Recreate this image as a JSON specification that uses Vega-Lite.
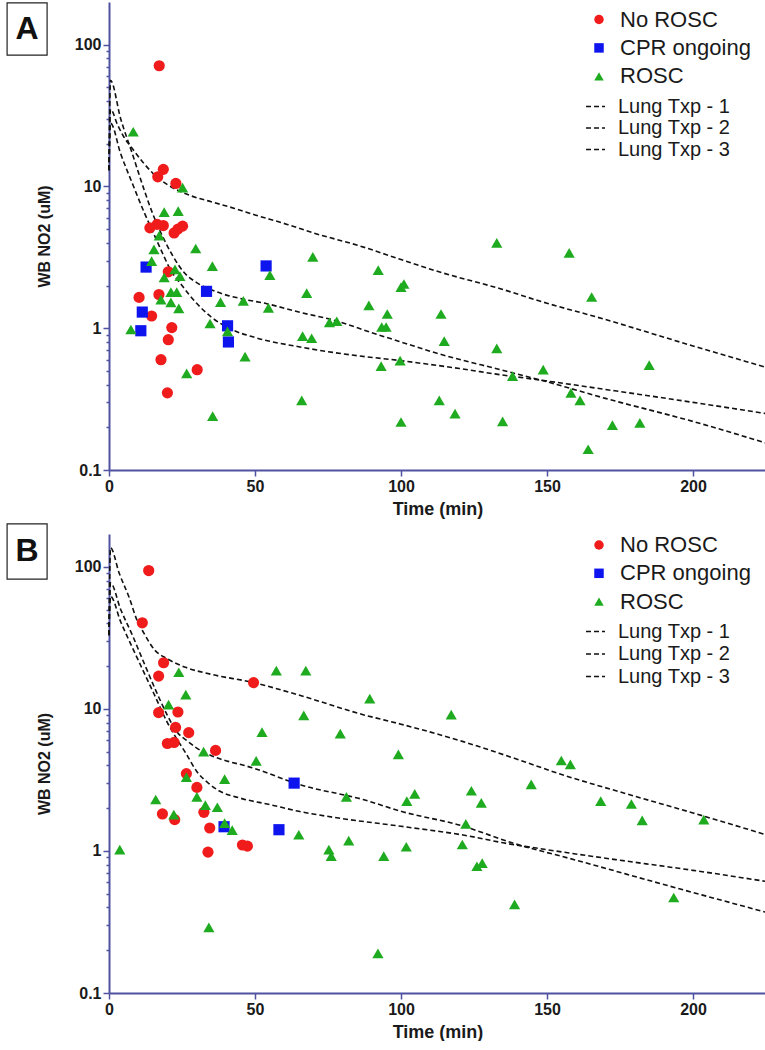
{
  "$schema": "https://vega.github.io/schema/vega-lite/v6.json",
  "padding": {"left": 6, "top": 2, "right": 0, "bottom": 0},
  "background": "white",
  "config": {
    "view": {"stroke": null},
    "font": "Liberation Sans",
    "axis": {"domainColor": "#4e52a0", "domainWidth": 2, "tickColor": "#4e52a0", "tickWidth": 1.5, "labelFont": "Liberation Sans", "labelFontWeight": "bold", "labelColor": "#1a1a1a", "titleFont": "Liberation Sans", "titleFontWeight": "bold", "titleColor": "#1a1a1a", "grid": false},
    "legend": {"labelFont": "Liberation Sans", "labelColor": "#1a1a1a", "padding": 0}
  },
  "spacing": 5,
  "resolve": {
    "scale": {"color": "independent", "shape": "independent", "strokeDash": "independent"},
    "legend": {"color": "independent", "shape": "independent", "strokeDash": "independent"}
  },
  "datasets": {
    "A_points": [
      {"group": "No ROSC", "t": 17.2, "v": 71}, {"group": "No ROSC", "t": 18.6, "v": 13.2}, {"group": "No ROSC", "t": 16.7, "v": 11.7}, {"group": "No ROSC", "t": 22.9, "v": 10.5}, {"group": "No ROSC", "t": 14, "v": 5.1}, {"group": "No ROSC", "t": 16.5, "v": 5.4}, {"group": "No ROSC", "t": 18.6, "v": 5.3}, {"group": "No ROSC", "t": 22.3, "v": 4.7}, {"group": "No ROSC", "t": 23.6, "v": 5.0}, {"group": "No ROSC", "t": 25.2, "v": 5.25}, {"group": "No ROSC", "t": 20.3, "v": 2.5}, {"group": "No ROSC", "t": 10.3, "v": 1.65}, {"group": "No ROSC", "t": 14.6, "v": 1.22}, {"group": "No ROSC", "t": 17.1, "v": 1.73}, {"group": "No ROSC", "t": 21.5, "v": 1.01}, {"group": "No ROSC", "t": 20.3, "v": 0.83}, {"group": "No ROSC", "t": 17.8, "v": 0.6}, {"group": "No ROSC", "t": 30.2, "v": 0.51}, {"group": "No ROSC", "t": 20, "v": 0.35},
      {"group": "CPR ongoing", "t": 12.7, "v": 2.7}, {"group": "CPR ongoing", "t": 53.8, "v": 2.75}, {"group": "CPR ongoing", "t": 33.4, "v": 1.82}, {"group": "CPR ongoing", "t": 11.4, "v": 1.3}, {"group": "CPR ongoing", "t": 10.9, "v": 0.96}, {"group": "CPR ongoing", "t": 40.6, "v": 1.04}, {"group": "CPR ongoing", "t": 40.9, "v": 0.8},
      {"group": "ROSC", "t": 8.3, "v": 24.3}, {"group": "ROSC", "t": 25.2, "v": 9.8}, {"group": "ROSC", "t": 18.9, "v": 6.6}, {"group": "ROSC", "t": 23.7, "v": 6.7}, {"group": "ROSC", "t": 17.2, "v": 4.5}, {"group": "ROSC", "t": 15.4, "v": 3.6}, {"group": "ROSC", "t": 14.6, "v": 2.97}, {"group": "ROSC", "t": 22.6, "v": 2.6}, {"group": "ROSC", "t": 18.9, "v": 2.28}, {"group": "ROSC", "t": 24.3, "v": 2.33}, {"group": "ROSC", "t": 29.7, "v": 3.65}, {"group": "ROSC", "t": 35.4, "v": 2.74}, {"group": "ROSC", "t": 55.1, "v": 2.37}, {"group": "ROSC", "t": 69.8, "v": 3.19}, {"group": "ROSC", "t": 67.7, "v": 1.77}, {"group": "ROSC", "t": 92.2, "v": 2.57}, {"group": "ROSC", "t": 100, "v": 1.95}, {"group": "ROSC", "t": 101, "v": 2.05}, {"group": "ROSC", "t": 17.8, "v": 1.59}, {"group": "ROSC", "t": 21.2, "v": 1.8}, {"group": "ROSC", "t": 23.2, "v": 1.8}, {"group": "ROSC", "t": 21.2, "v": 1.52}, {"group": "ROSC", "t": 23.9, "v": 1.38}, {"group": "ROSC", "t": 38.2, "v": 1.53}, {"group": "ROSC", "t": 46, "v": 1.56}, {"group": "ROSC", "t": 54.6, "v": 1.39}, {"group": "ROSC", "t": 89, "v": 1.45}, {"group": "ROSC", "t": 95.3, "v": 1.26}, {"group": "ROSC", "t": 113.7, "v": 1.26}, {"group": "ROSC", "t": 132.8, "v": 4.0}, {"group": "ROSC", "t": 157.6, "v": 3.4}, {"group": "ROSC", "t": 165.3, "v": 1.66}, {"group": "ROSC", "t": 34.6, "v": 1.08}, {"group": "ROSC", "t": 40.6, "v": 0.95}, {"group": "ROSC", "t": 7.5, "v": 0.98}, {"group": "ROSC", "t": 26.6, "v": 0.48}, {"group": "ROSC", "t": 46.6, "v": 0.63}, {"group": "ROSC", "t": 35.5, "v": 0.24}, {"group": "ROSC", "t": 75.5, "v": 1.1}, {"group": "ROSC", "t": 78, "v": 1.12}, {"group": "ROSC", "t": 66.3, "v": 0.88}, {"group": "ROSC", "t": 69.4, "v": 0.85}, {"group": "ROSC", "t": 93.4, "v": 1.02}, {"group": "ROSC", "t": 94.9, "v": 1.02}, {"group": "ROSC", "t": 93.2, "v": 0.54}, {"group": "ROSC", "t": 99.7, "v": 0.59}, {"group": "ROSC", "t": 114.8, "v": 0.81}, {"group": "ROSC", "t": 132.8, "v": 0.72}, {"group": "ROSC", "t": 66, "v": 0.31}, {"group": "ROSC", "t": 100, "v": 0.218}, {"group": "ROSC", "t": 113.1, "v": 0.31}, {"group": "ROSC", "t": 118.5, "v": 0.25}, {"group": "ROSC", "t": 134.8, "v": 0.22}, {"group": "ROSC", "t": 138.2, "v": 0.46}, {"group": "ROSC", "t": 148.7, "v": 0.51}, {"group": "ROSC", "t": 185, "v": 0.55}, {"group": "ROSC", "t": 158.2, "v": 0.35}, {"group": "ROSC", "t": 161.3, "v": 0.31}, {"group": "ROSC", "t": 172.4, "v": 0.207}, {"group": "ROSC", "t": 181.8, "v": 0.215}, {"group": "ROSC", "t": 164.1, "v": 0.14}
    ],
    "A_curves": [
      {"curve": "Lung Txp - 1", "t": 0, "v": 13}, {"curve": "Lung Txp - 1", "t": 0.5, "v": 35}, {"curve": "Lung Txp - 1", "t": 3, "v": 27}, {"curve": "Lung Txp - 1", "t": 5, "v": 22.5}, {"curve": "Lung Txp - 1", "t": 8, "v": 18.5}, {"curve": "Lung Txp - 1", "t": 12, "v": 14.5}, {"curve": "Lung Txp - 1", "t": 15, "v": 12.4}, {"curve": "Lung Txp - 1", "t": 20, "v": 10.3}, {"curve": "Lung Txp - 1", "t": 28, "v": 8.6}, {"curve": "Lung Txp - 1", "t": 35, "v": 7.8}, {"curve": "Lung Txp - 1", "t": 43, "v": 7.0}, {"curve": "Lung Txp - 1", "t": 50, "v": 6.3}, {"curve": "Lung Txp - 1", "t": 61, "v": 5.4}, {"curve": "Lung Txp - 1", "t": 70, "v": 4.7}, {"curve": "Lung Txp - 1", "t": 86, "v": 3.8}, {"curve": "Lung Txp - 1", "t": 100, "v": 3.05}, {"curve": "Lung Txp - 1", "t": 113, "v": 2.5}, {"curve": "Lung Txp - 1", "t": 134, "v": 1.9}, {"curve": "Lung Txp - 1", "t": 150, "v": 1.5}, {"curve": "Lung Txp - 1", "t": 167, "v": 1.2}, {"curve": "Lung Txp - 1", "t": 200, "v": 0.75}, {"curve": "Lung Txp - 1", "t": 225, "v": 0.53},
      {"curve": "Lung Txp - 2", "t": 0, "v": 13}, {"curve": "Lung Txp - 2", "t": 0.5, "v": 28}, {"curve": "Lung Txp - 2", "t": 4, "v": 17}, {"curve": "Lung Txp - 2", "t": 8, "v": 10.5}, {"curve": "Lung Txp - 2", "t": 12, "v": 6.6}, {"curve": "Lung Txp - 2", "t": 15, "v": 4.8}, {"curve": "Lung Txp - 2", "t": 18, "v": 3.5}, {"curve": "Lung Txp - 2", "t": 21, "v": 2.6}, {"curve": "Lung Txp - 2", "t": 25, "v": 2.0}, {"curve": "Lung Txp - 2", "t": 30, "v": 1.5}, {"curve": "Lung Txp - 2", "t": 35, "v": 1.2}, {"curve": "Lung Txp - 2", "t": 42, "v": 0.98}, {"curve": "Lung Txp - 2", "t": 50, "v": 0.86}, {"curve": "Lung Txp - 2", "t": 65, "v": 0.74}, {"curve": "Lung Txp - 2", "t": 80, "v": 0.66}, {"curve": "Lung Txp - 2", "t": 100, "v": 0.59}, {"curve": "Lung Txp - 2", "t": 120, "v": 0.52}, {"curve": "Lung Txp - 2", "t": 134, "v": 0.47}, {"curve": "Lung Txp - 2", "t": 148, "v": 0.43}, {"curve": "Lung Txp - 2", "t": 170, "v": 0.37}, {"curve": "Lung Txp - 2", "t": 200, "v": 0.3}, {"curve": "Lung Txp - 2", "t": 225, "v": 0.25},
      {"curve": "Lung Txp - 3", "t": 0, "v": 13}, {"curve": "Lung Txp - 3", "t": 0.5, "v": 56}, {"curve": "Lung Txp - 3", "t": 4, "v": 30}, {"curve": "Lung Txp - 3", "t": 8, "v": 17}, {"curve": "Lung Txp - 3", "t": 12, "v": 9.5}, {"curve": "Lung Txp - 3", "t": 15, "v": 6.4}, {"curve": "Lung Txp - 3", "t": 18, "v": 4.6}, {"curve": "Lung Txp - 3", "t": 22, "v": 3.2}, {"curve": "Lung Txp - 3", "t": 25.5, "v": 2.5}, {"curve": "Lung Txp - 3", "t": 30, "v": 2.1}, {"curve": "Lung Txp - 3", "t": 37, "v": 1.8}, {"curve": "Lung Txp - 3", "t": 45, "v": 1.62}, {"curve": "Lung Txp - 3", "t": 54, "v": 1.49}, {"curve": "Lung Txp - 3", "t": 65, "v": 1.3}, {"curve": "Lung Txp - 3", "t": 77, "v": 1.14}, {"curve": "Lung Txp - 3", "t": 90, "v": 0.93}, {"curve": "Lung Txp - 3", "t": 100, "v": 0.8}, {"curve": "Lung Txp - 3", "t": 113, "v": 0.66}, {"curve": "Lung Txp - 3", "t": 134, "v": 0.51}, {"curve": "Lung Txp - 3", "t": 148, "v": 0.43}, {"curve": "Lung Txp - 3", "t": 170, "v": 0.32}, {"curve": "Lung Txp - 3", "t": 200, "v": 0.22}, {"curve": "Lung Txp - 3", "t": 225, "v": 0.155}
    ],
    "B_points": [
      {"group": "No ROSC", "t": 13.6, "v": 94}, {"group": "No ROSC", "t": 11.4, "v": 40.3}, {"group": "No ROSC", "t": 18.7, "v": 21.1}, {"group": "No ROSC", "t": 17, "v": 17}, {"group": "No ROSC", "t": 49.5, "v": 15.3}, {"group": "No ROSC", "t": 17, "v": 9.4}, {"group": "No ROSC", "t": 23.6, "v": 9.5}, {"group": "No ROSC", "t": 22.8, "v": 7.4}, {"group": "No ROSC", "t": 27.3, "v": 6.8}, {"group": "No ROSC", "t": 20, "v": 5.7}, {"group": "No ROSC", "t": 22.3, "v": 5.8}, {"group": "No ROSC", "t": 36.5, "v": 5.1}, {"group": "No ROSC", "t": 26.5, "v": 3.5}, {"group": "No ROSC", "t": 30.1, "v": 2.8}, {"group": "No ROSC", "t": 18.3, "v": 1.82}, {"group": "No ROSC", "t": 32.5, "v": 1.87}, {"group": "No ROSC", "t": 22.5, "v": 1.66}, {"group": "No ROSC", "t": 34.5, "v": 1.45}, {"group": "No ROSC", "t": 45.7, "v": 1.1}, {"group": "No ROSC", "t": 47.4, "v": 1.08}, {"group": "No ROSC", "t": 33.9, "v": 0.98},
      {"group": "CPR ongoing", "t": 63.4, "v": 3.0}, {"group": "CPR ongoing", "t": 39.4, "v": 1.48}, {"group": "CPR ongoing", "t": 58.2, "v": 1.41},
      {"group": "ROSC", "t": 23.9, "v": 18.1}, {"group": "ROSC", "t": 57.3, "v": 18.6}, {"group": "ROSC", "t": 67.4, "v": 18.6}, {"group": "ROSC", "t": 26.3, "v": 12.6}, {"group": "ROSC", "t": 20.4, "v": 10.7}, {"group": "ROSC", "t": 66.7, "v": 9.0}, {"group": "ROSC", "t": 52.4, "v": 6.85}, {"group": "ROSC", "t": 79.2, "v": 6.7}, {"group": "ROSC", "t": 32.4, "v": 5.0}, {"group": "ROSC", "t": 50.4, "v": 4.3}, {"group": "ROSC", "t": 81.3, "v": 2.4}, {"group": "ROSC", "t": 26.5, "v": 3.3}, {"group": "ROSC", "t": 39.6, "v": 3.2}, {"group": "ROSC", "t": 16, "v": 2.3}, {"group": "ROSC", "t": 30.1, "v": 2.4}, {"group": "ROSC", "t": 33, "v": 2.1}, {"group": "ROSC", "t": 37.1, "v": 2.03}, {"group": "ROSC", "t": 22.2, "v": 1.8}, {"group": "ROSC", "t": 39.6, "v": 1.57}, {"group": "ROSC", "t": 42.2, "v": 1.4}, {"group": "ROSC", "t": 65, "v": 1.3}, {"group": "ROSC", "t": 3.7, "v": 1.02}, {"group": "ROSC", "t": 75.3, "v": 1.02}, {"group": "ROSC", "t": 76.1, "v": 0.92}, {"group": "ROSC", "t": 82.1, "v": 1.18}, {"group": "ROSC", "t": 94.1, "v": 0.92}, {"group": "ROSC", "t": 101.8, "v": 1.07}, {"group": "ROSC", "t": 102, "v": 2.24}, {"group": "ROSC", "t": 104.7, "v": 2.52}, {"group": "ROSC", "t": 99.1, "v": 4.78}, {"group": "ROSC", "t": 89.3, "v": 11.8}, {"group": "ROSC", "t": 117.2, "v": 9.1}, {"group": "ROSC", "t": 124.1, "v": 2.65}, {"group": "ROSC", "t": 127.5, "v": 2.18}, {"group": "ROSC", "t": 122.2, "v": 1.55}, {"group": "ROSC", "t": 121, "v": 1.11}, {"group": "ROSC", "t": 126, "v": 0.78}, {"group": "ROSC", "t": 127.8, "v": 0.82}, {"group": "ROSC", "t": 144.6, "v": 2.94}, {"group": "ROSC", "t": 154.9, "v": 4.33}, {"group": "ROSC", "t": 158, "v": 4.06}, {"group": "ROSC", "t": 168.4, "v": 2.24}, {"group": "ROSC", "t": 178.9, "v": 2.14}, {"group": "ROSC", "t": 182.6, "v": 1.64}, {"group": "ROSC", "t": 203.7, "v": 1.66}, {"group": "ROSC", "t": 138.9, "v": 0.42}, {"group": "ROSC", "t": 193.4, "v": 0.47}, {"group": "ROSC", "t": 34.2, "v": 0.29}, {"group": "ROSC", "t": 92.1, "v": 0.19}
    ],
    "B_curves": [
      {"curve": "Lung Txp - 1", "t": 0, "v": 33}, {"curve": "Lung Txp - 1", "t": 0.5, "v": 136}, {"curve": "Lung Txp - 1", "t": 3.5, "v": 90}, {"curve": "Lung Txp - 1", "t": 7, "v": 60}, {"curve": "Lung Txp - 1", "t": 9.4, "v": 43}, {"curve": "Lung Txp - 1", "t": 12, "v": 34}, {"curve": "Lung Txp - 1", "t": 15.6, "v": 26}, {"curve": "Lung Txp - 1", "t": 20, "v": 22.5}, {"curve": "Lung Txp - 1", "t": 26.5, "v": 19.5}, {"curve": "Lung Txp - 1", "t": 35, "v": 17.5}, {"curve": "Lung Txp - 1", "t": 49.5, "v": 15.3}, {"curve": "Lung Txp - 1", "t": 65, "v": 12.5}, {"curve": "Lung Txp - 1", "t": 87, "v": 9.1}, {"curve": "Lung Txp - 1", "t": 100, "v": 7.8}, {"curve": "Lung Txp - 1", "t": 121, "v": 5.9}, {"curve": "Lung Txp - 1", "t": 140, "v": 4.4}, {"curve": "Lung Txp - 1", "t": 155, "v": 3.45}, {"curve": "Lung Txp - 1", "t": 175, "v": 2.6}, {"curve": "Lung Txp - 1", "t": 200, "v": 1.85}, {"curve": "Lung Txp - 1", "t": 225, "v": 1.3},
      {"curve": "Lung Txp - 2", "t": 0, "v": 33}, {"curve": "Lung Txp - 2", "t": 0.5, "v": 77}, {"curve": "Lung Txp - 2", "t": 4, "v": 50}, {"curve": "Lung Txp - 2", "t": 8, "v": 33}, {"curve": "Lung Txp - 2", "t": 12, "v": 21}, {"curve": "Lung Txp - 2", "t": 16, "v": 13.5}, {"curve": "Lung Txp - 2", "t": 20, "v": 9.0}, {"curve": "Lung Txp - 2", "t": 23, "v": 7.0}, {"curve": "Lung Txp - 2", "t": 27, "v": 5.9}, {"curve": "Lung Txp - 2", "t": 32, "v": 5.0}, {"curve": "Lung Txp - 2", "t": 36, "v": 4.6}, {"curve": "Lung Txp - 2", "t": 49, "v": 3.85}, {"curve": "Lung Txp - 2", "t": 66, "v": 2.9}, {"curve": "Lung Txp - 2", "t": 87, "v": 2.3}, {"curve": "Lung Txp - 2", "t": 100, "v": 1.9}, {"curve": "Lung Txp - 2", "t": 121, "v": 1.5}, {"curve": "Lung Txp - 2", "t": 138, "v": 1.14}, {"curve": "Lung Txp - 2", "t": 160, "v": 0.86}, {"curve": "Lung Txp - 2", "t": 190, "v": 0.58}, {"curve": "Lung Txp - 2", "t": 225, "v": 0.37},
      {"curve": "Lung Txp - 3", "t": 0, "v": 33}, {"curve": "Lung Txp - 3", "t": 0.5, "v": 62}, {"curve": "Lung Txp - 3", "t": 4, "v": 41}, {"curve": "Lung Txp - 3", "t": 8, "v": 27}, {"curve": "Lung Txp - 3", "t": 12, "v": 18}, {"curve": "Lung Txp - 3", "t": 16, "v": 12}, {"curve": "Lung Txp - 3", "t": 20, "v": 8.0}, {"curve": "Lung Txp - 3", "t": 23, "v": 6.25}, {"curve": "Lung Txp - 3", "t": 26.5, "v": 4.8}, {"curve": "Lung Txp - 3", "t": 30, "v": 3.64}, {"curve": "Lung Txp - 3", "t": 34, "v": 3.0}, {"curve": "Lung Txp - 3", "t": 38, "v": 2.63}, {"curve": "Lung Txp - 3", "t": 45, "v": 2.35}, {"curve": "Lung Txp - 3", "t": 55, "v": 2.12}, {"curve": "Lung Txp - 3", "t": 65, "v": 1.9}, {"curve": "Lung Txp - 3", "t": 78, "v": 1.71}, {"curve": "Lung Txp - 3", "t": 100, "v": 1.49}, {"curve": "Lung Txp - 3", "t": 123.5, "v": 1.27}, {"curve": "Lung Txp - 3", "t": 135, "v": 1.14}, {"curve": "Lung Txp - 3", "t": 150, "v": 1.02}, {"curve": "Lung Txp - 3", "t": 175, "v": 0.86}, {"curve": "Lung Txp - 3", "t": 200, "v": 0.73}, {"curve": "Lung Txp - 3", "t": 225, "v": 0.61}
    ]
  },
  "vconcat": [
    {
      "width": 657,
      "height": 468,
      "layer": [
        {
          "data": {"name": "A_curves"},
          "mark": {"type": "line", "color": "#111111", "strokeWidth": 1.6, "interpolate": "monotone"},
          "encoding": {
            "x": {"field": "t", "type": "quantitative", "scale": {"domain": [0, 225], "nice": false, "zero": false}, "axis": {"values": [0, 50, 100, 150, 200], "title": "Time (min)", "labelFontSize": 16, "titleFontSize": 18, "tickSize": 6, "labelPadding": 2, "titlePadding": 6, "labelFlush": false}},
            "y": {"field": "v", "type": "quantitative", "scale": {"type": "log", "domain": [0.1, 200], "nice": false}, "axis": {"values": [0.1, 0.2, 0.3, 0.4, 0.5, 0.6, 0.7, 0.8, 0.9, 1, 2, 3, 4, 5, 6, 7, 8, 9, 10, 20, 30, 40, 50, 60, 70, 80, 90, 100], "labelExpr": "indexof([0.1, 1, 10, 100], datum.value) >= 0 ? format(datum.value, '~g') : ''", "tickSize": {"condition": {"test": "indexof([0.1, 1, 10, 100], datum.value) >= 0", "value": 6}, "value": 3}, "title": "WB NO2  (uM)", "labelFontSize": 16, "titleFontSize": 16, "labelPadding": 2, "titlePadding": 22, "labelFlush": false}},
            "strokeDash": {"field": "curve", "type": "nominal", "scale": {"domain": ["Lung Txp - 1", "Lung Txp - 2", "Lung Txp - 3"], "range": [[5, 3], [5, 3], [5, 3]]}, "legend": {"title": null, "orient": "none", "legendX": 476, "legendY": 94, "labelFontSize": 20, "symbolSize": 361, "symbolStrokeWidth": 1.4, "symbolStrokeColor": "#111111", "labelOffset": 12, "rowPadding": 0.5}}
          }
        },
        {
          "data": {"name": "A_points"},
          "mark": {"type": "point", "filled": true, "opacity": 1, "size": 125},
          "encoding": {
            "x": {"field": "t", "type": "quantitative"},
            "y": {"field": "v", "type": "quantitative"},
            "color": {"field": "group", "type": "nominal", "scale": {"domain": ["No ROSC", "CPR ongoing", "ROSC"], "range": ["#f01c1c", "#0d14ee", "#1fab1f"]}, "legend": {"title": null, "orient": "none", "legendX": 479, "legendY": 6.5, "labelFontSize": 22, "symbolSize": 90, "labelOffset": 10, "rowPadding": 6.4}},
            "shape": {"field": "group", "type": "nominal", "scale": {"domain": ["No ROSC", "CPR ongoing", "ROSC"], "range": ["circle", "square", "triangle-up"]}, "legend": {"title": null, "orient": "none", "legendX": 479, "legendY": 6.5, "labelFontSize": 22, "symbolSize": 90, "labelOffset": 10, "rowPadding": 6.4}}
          }
        },
        {
          "data": {"values": [{"label": "A"}]},
          "mark": {"type": "rect", "fill": "white", "stroke": "#222222", "strokeWidth": 1.2},
          "encoding": {"x": {"datum": -34.9, "type": "quantitative"}, "x2": {"datum": -21.2}, "y": {"datum": 197, "type": "quantitative"}, "y2": {"datum": 84.5}}
        },
        {
          "data": {"values": [{"label": "A"}]},
          "mark": {"type": "text", "fontSize": 32, "fontWeight": "bold", "font": "Liberation Sans", "align": "center", "baseline": "middle", "color": "#111111"},
          "encoding": {"x": {"datum": -28.05, "type": "quantitative"}, "y": {"datum": 129, "type": "quantitative"}, "text": {"field": "label"}}
        }
      ]
    },
    {
      "width": 657,
      "height": 459,
      "layer": [
        {
          "data": {"name": "B_curves"},
          "mark": {"type": "line", "color": "#111111", "strokeWidth": 1.6, "interpolate": "monotone"},
          "encoding": {
            "x": {"field": "t", "type": "quantitative", "scale": {"domain": [0, 225], "nice": false, "zero": false}, "axis": {"values": [0, 50, 100, 150, 200], "title": "Time (min)", "labelFontSize": 16, "titleFontSize": 18, "tickSize": 6, "labelPadding": 2, "titlePadding": 6, "labelFlush": false}},
            "y": {"field": "v", "type": "quantitative", "scale": {"type": "log", "domain": [0.1, 170], "nice": false}, "axis": {"values": [0.1, 0.2, 0.3, 0.4, 0.5, 0.6, 0.7, 0.8, 0.9, 1, 2, 3, 4, 5, 6, 7, 8, 9, 10, 20, 30, 40, 50, 60, 70, 80, 90, 100], "labelExpr": "indexof([0.1, 1, 10, 100], datum.value) >= 0 ? format(datum.value, '~g') : ''", "tickSize": {"condition": {"test": "indexof([0.1, 1, 10, 100], datum.value) >= 0", "value": 6}, "value": 3}, "title": "WB NO2  (uM)", "labelFontSize": 16, "titleFontSize": 16, "labelPadding": 2, "titlePadding": 22, "labelFlush": false}},
            "strokeDash": {"field": "curve", "type": "nominal", "scale": {"domain": ["Lung Txp - 1", "Lung Txp - 2", "Lung Txp - 3"], "range": [[5, 3], [5, 3], [5, 3]]}, "legend": {"title": null, "orient": "none", "legendX": 476, "legendY": 87, "labelFontSize": 20, "symbolSize": 361, "symbolStrokeWidth": 1.4, "symbolStrokeColor": "#111111", "labelOffset": 12, "rowPadding": 1.5}}
          }
        },
        {
          "data": {"name": "B_points"},
          "mark": {"type": "point", "filled": true, "opacity": 1, "size": 125},
          "encoding": {
            "x": {"field": "t", "type": "quantitative"},
            "y": {"field": "v", "type": "quantitative"},
            "color": {"field": "group", "type": "nominal", "scale": {"domain": ["No ROSC", "CPR ongoing", "ROSC"], "range": ["#f01c1c", "#0d14ee", "#1fab1f"]}, "legend": {"title": null, "orient": "none", "legendX": 479, "legendY": 0, "labelFontSize": 22, "symbolSize": 90, "labelOffset": 10, "rowPadding": 6.3}},
            "shape": {"field": "group", "type": "nominal", "scale": {"domain": ["No ROSC", "CPR ongoing", "ROSC"], "range": ["circle", "square", "triangle-up"]}, "legend": {"title": null, "orient": "none", "legendX": 479, "legendY": 0, "labelFontSize": 22, "symbolSize": 90, "labelOffset": 10, "rowPadding": 6.3}}
          }
        },
        {
          "data": {"values": [{"label": "B"}]},
          "mark": {"type": "rect", "fill": "white", "stroke": "#222222", "strokeWidth": 1.2},
          "encoding": {"x": {"datum": -34.9, "type": "quantitative"}, "x2": {"datum": -21.2}, "y": {"datum": 200, "type": "quantitative"}, "y2": {"datum": 81.9}}
        },
        {
          "data": {"values": [{"label": "B"}]},
          "mark": {"type": "text", "fontSize": 32, "fontWeight": "bold", "font": "Liberation Sans", "align": "center", "baseline": "middle", "color": "#111111"},
          "encoding": {"x": {"datum": -28.05, "type": "quantitative"}, "y": {"datum": 129, "type": "quantitative"}, "text": {"field": "label"}}
        }
      ]
    }
  ]
}
